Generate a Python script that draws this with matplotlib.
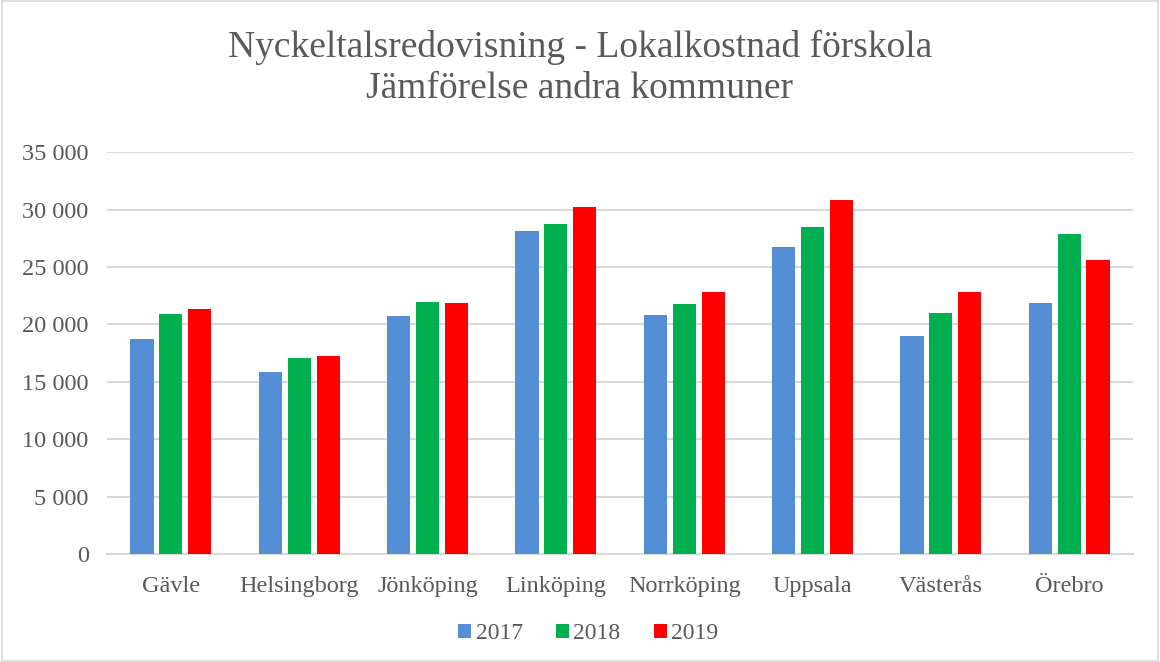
import numpy as np
import matplotlib.pyplot as plt
from matplotlib.patches import Rectangle
from matplotlib.ticker import FuncFormatter, MultipleLocator

plt.rcParams['font.family'] = ['Liberation Serif', 'DejaVu Serif']

# Data
municipalities = ["Gävle", "Helsingborg", "Jönköping", "Linköping",
                  "Norrköping", "Uppsala", "Västerås", "Örebro"]
years = ["2017", "2018", "2019"]
cost_2017 = [18740, 15860, 20740, 28150, 20830, 26750, 19000, 21870]
cost_2018 = [20910, 17080, 21960, 28760, 21790, 28490, 21000, 27880]
cost_2019 = [21350, 17250, 21870, 30240, 22830, 30850, 22830, 25620]
series = [cost_2017, cost_2018, cost_2019]
colors = ["#558ed5", "#00b050", "#ff0000"]

text_color = "#595959"
grid_color = "#d9d9d9"

fig = plt.figure(figsize=(11.6, 6.62), dpi=100)
ax = fig.add_axes([0.092, 0.163, 0.885, 0.607])

x = np.arange(len(municipalities))
bar_w = 0.18
step = 0.225
for i, (vals, col, lab) in enumerate(zip(series, colors, years)):
    ax.bar(x + (i - 1) * step, vals, width=bar_w, color=col, label=lab, zorder=3)

ax.set_xlim(-0.5, len(municipalities) - 0.5)
ax.set_ylim(0, 35000)
ax.yaxis.set_major_locator(MultipleLocator(5000))
ax.yaxis.set_major_formatter(FuncFormatter(lambda v, p: f"{v:,.0f}".replace(",", " ")))
ax.grid(axis="y", color=grid_color, linewidth=1.5, zorder=0)
ax.set_axisbelow(True)

for s in ["top", "right", "left"]:
    ax.spines[s].set_visible(False)
ax.spines["bottom"].set_color(grid_color)
ax.spines["bottom"].set_linewidth(1.5)

ax.set_xticks(x)
ax.set_xticklabels(municipalities)
ax.tick_params(axis="both", length=0, labelsize=17.5, labelcolor=text_color)
ax.tick_params(axis="y", pad=13)
ax.tick_params(axis="x", pad=16)

fig.text(0.5, 0.898, "Nyckeltalsredovisning - Lokalkostnad förskola\nJämförelse andra kommuner",
         ha="center", va="center", fontsize=27, color=text_color, linespacing=1.25)

leg = fig.legend(loc="center", bbox_to_anchor=(0.507, 0.043), ncol=3, frameon=False,
                 fontsize=17, handlelength=0.55, handleheight=0.55,
                 handletextpad=0.2, columnspacing=1.4)
for t in leg.get_texts():
    t.set_color(text_color)

fig.patches.append(Rectangle((0.002, 0.002), 0.996, 0.996, transform=fig.transFigure,
                             fill=False, edgecolor=grid_color, linewidth=1.2))

fig.savefig("out.png", dpi=100)
